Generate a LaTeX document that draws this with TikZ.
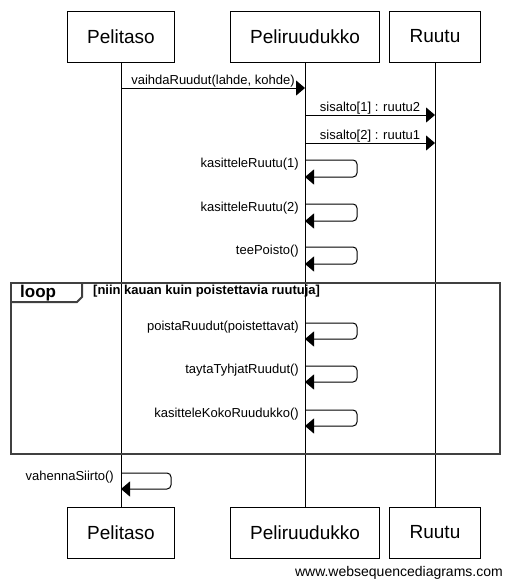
\documentclass[tikz,border=0pt]{standalone}
\usepackage{fontspec}
\setmainfont{Liberation Sans}
\usetikzlibrary{arrows.meta}

\begin{document}
\begin{tikzpicture}[x=1pt,y=-1pt,
        actor/.style={draw, line width=1pt, minimum height=51pt, inner xsep=20pt, font=\fontsize{19}{23}\selectfont},
        msg/.style={line width=1pt, -{Triangle[length=9pt,width=15pt]}},
        selfmsg/.style={msg, rounded corners=4pt},
        lbl/.style={inner sep=0pt, font=\fontsize{13}{15}\selectfont},
        frame/.style={line width=2pt, draw=black!75}]
        \useasboundingbox (0,0) rectangle (509,581);
        \node[actor] (pelitaso) at (121,36.5) {Pelitaso};
        \node[actor] (peliruudukko) at (305,36.5) {Peliruudukko};
        \node[actor] (ruutu) at (435,36.5) {Ruutu};
        \node[actor] (pelitaso2) at (121,532.5) {Pelitaso};
        \node[actor] (peliruudukko2) at (305,532.5) {Peliruudukko};
        \node[actor] (ruutu2) at (435,532.5) {Ruutu};
        \draw[line width=1pt] (pelitaso) -- (pelitaso2);
        \draw[line width=1pt] (peliruudukko) -- (peliruudukko2);
        \draw[line width=1pt] (ruutu) -- (ruutu2);

        \draw[msg] (pelitaso |- 0,88) -- (peliruudukko |- 0,88) node[lbl, midway, anchor=base, yshift=4pt] {vaihdaRuudut(lahde, kohde)};
        \draw[msg] (peliruudukko |- 0,115) -- (ruutu |- 0,115) node[lbl, midway, anchor=base, yshift=4pt] {sisalto[1] : ruutu2};
        \draw[msg] (peliruudukko |- 0,143) -- (ruutu |- 0,143) node[lbl, midway, anchor=base, yshift=4pt] {sisalto[2] : ruutu1};

        \draw[selfmsg] (peliruudukko |- 0,160) -| ++(52,17) -- (peliruudukko |- 0,177);
        \node[lbl, anchor=base east] (k1) at (299,167) {kasitteleRuutu(1)};
        \draw[selfmsg] (peliruudukko |- 0,204) -| ++(52,17) -- (peliruudukko |- 0,221);
        \node[lbl, anchor=base east] (k2) at (299,211) {kasitteleRuutu(2)};
        \draw[selfmsg] (peliruudukko |- 0,247) -| ++(52,17) -- (peliruudukko |- 0,264);
        \node[lbl, anchor=base east] (tp) at (299,254) {teePoisto()};

        \draw[frame] (11,283) rectangle (500,454);
        \draw[frame] (11,302) -- (77,302) -- (82,297) -- (82,283);
        \node[inner sep=0pt, anchor=base west, font=\fontsize{17}{20}\selectfont\bfseries] (loop) at (20,297) {loop};
        \node[inner sep=0pt, anchor=base west, font=\fontsize{13}{15}\selectfont\bfseries] (guard) at (93,294.5) {[niin kauan kuin poistettavia ruutuja]};

        \draw[selfmsg] (peliruudukko |- 0,323) -| ++(52,16) -- (peliruudukko |- 0,339);
        \node[lbl, anchor=base east] (pr) at (299,330) {poistaRuudut(poistettavat)};
        \draw[selfmsg] (peliruudukko |- 0,366) -| ++(52,16) -- (peliruudukko |- 0,382);
        \node[lbl, anchor=base east] (tt) at (299,373) {taytaTyhjatRuudut()};
        \draw[selfmsg] (peliruudukko |- 0,410) -| ++(52,16) -- (peliruudukko |- 0,426);
        \node[lbl, anchor=base east] (kk) at (299,417) {kasitteleKokoRuudukko()};

        \draw[selfmsg] (pelitaso |- 0,473) -| ++(50,16) -- (pelitaso |- 0,489);
        \node[lbl, anchor=base east] (vs) at (114,480) {vahennaSiirto()};

        \node[inner sep=0pt, anchor=base east, font=\fontsize{14}{16}\selectfont] (wsd) at (503,576) {www.websequencediagrams.com};
    \end{tikzpicture}
\end{document}
